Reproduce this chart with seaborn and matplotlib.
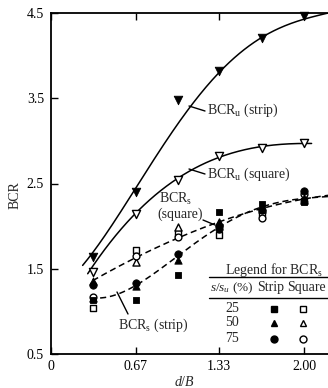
import numpy as np
import pandas as pd
import matplotlib
matplotlib.use("Agg")
import matplotlib.pyplot as plt
import seaborn as sns

# ---------------- data ----------------
x_db = [0.33, 0.67, 1.00, 1.33, 1.67, 2.00]
x_ticks = [0, 0.67, 1.33, 2.00]
x_ticklabels = ["0", "0.67", "1.33", "2.00"]
y_ticks = [0.5, 1.5, 2.5, 3.5, 4.5]
y_ticklabels = ["0.5", "1.5", "2.5", "3.5", "4.5"]

bcru_strip = [1.64, 2.40, 3.48, 3.82, 4.21, 4.46]
bcru_square = [1.46, 2.14, 2.54, 2.82, 2.92, 2.98]

bcrs_strip_25 = [1.13, 1.13, 1.43, 2.17, 2.26, 2.28]
bcrs_strip_50 = [1.36, 1.30, 1.60, 2.04, 2.22, 2.33]
bcrs_strip_75 = [1.31, 1.33, 1.67, 1.97, 2.19, 2.41]
bcrs_square_25 = [1.04, 1.72, 1.92, 1.90, 2.15, 2.29]
bcrs_square_50 = [1.16, 1.58, 1.99, 2.05, 2.20, 2.31]
bcrs_square_75 = [1.17, 1.65, 1.87, 2.00, 2.10, 2.38]

# trend curves (knots along each drawn curve)
curve_u_strip_x = [0.25, 0.45, 0.67, 0.88, 1.02, 1.32, 1.65, 1.98, 2.19]
curve_u_strip_y = [1.53, 1.97, 2.42, 2.93, 3.24, 3.80, 4.19, 4.42, 4.50]
curve_u_square_x = [0.29, 0.45, 0.67, 1.00, 1.33, 1.67, 2.06]
curve_u_square_y = [1.43, 1.80, 2.14, 2.55, 2.82, 2.93, 2.97]
curve_s_strip_x = [0.31, 0.49, 0.68, 0.90, 1.00, 1.32, 1.67, 2.00, 2.25]
curve_s_strip_y = [1.15, 1.21, 1.32, 1.52, 1.62, 2.01, 2.23, 2.31, 2.36]
curve_s_square_x = [0.33, 0.68, 1.00, 1.32, 1.67, 2.00, 2.25]
curve_s_square_y = [1.36, 1.64, 1.86, 2.04, 2.21, 2.32, 2.37]

legend_pct = ["25", "50", "75"]

# ---------------- style ----------------
sns.set_style("ticks")
plt.rcParams["font.family"] = ["Liberation Serif", "DejaVu Serif"]
plt.rcParams["mathtext.fontset"] = "custom"
plt.rcParams["mathtext.rm"] = "Liberation Serif"
plt.rcParams["mathtext.it"] = "Liberation Serif:italic"
FS = 10

W, H = 328, 388
fig = plt.figure(figsize=(W / 100, H / 100), dpi=100)
ax_left, ax_bottom, ax_top, ax_right = 51, 354, 13, 345
ax = fig.add_axes([ax_left / W, 1 - ax_bottom / H, (ax_right - ax_left) / W,
                   (ax_bottom - ax_top) / H])
xmax = (ax_right - ax_left) / 126.5
ax.set_xlim(0, xmax)
ax.set_ylim(0.5, 4.5)


def smooth(xs, ys, deg, x0, x1):
    c = np.polyfit(xs, ys, deg)
    xx = np.linspace(x0, x1, 200)
    return xx, np.polyval(c, xx)


lw = 1.1
for (cx, cy, deg, ls) in [
    (curve_u_strip_x, curve_u_strip_y, 4, "-"),
    (curve_u_square_x, curve_u_square_y, 3, "-"),
    (curve_s_strip_x, curve_s_strip_y, 4, (0, (4, 2.5))),
    (curve_s_square_x, curve_s_square_y, 3, (0, (4, 2.5))),
]:
    xx, yy = smooth(cx, cy, deg, cx[0], cx[-1])
    df = pd.DataFrame({"x": xx, "y": yy})
    sns.lineplot(data=df, x="x", y="y", ax=ax, color="black", lw=lw,
                 linestyle=ls, sort=False, estimator=None, zorder=2)

# markers
series = [
    (bcrs_square_25, "s", False, 22),
    (bcrs_square_50, "^", False, 26),
    (bcrs_square_75, "o", False, 24),
    (bcrs_strip_25, "s", True, 22),
    (bcrs_strip_50, "^", True, 28),
    (bcrs_strip_75, "o", True, 28),
    (bcru_square, "v", False, 34),
    (bcru_strip, "v", True, 38),
]
for vals, mk, filled, s in series:
    df = pd.DataFrame({"x": x_db, "y": vals})
    if filled:
        sns.scatterplot(data=df, x="x", y="y", ax=ax, marker=mk, s=s,
                        color="black", edgecolor="black", linewidth=0.6,
                        zorder=4, clip_on=False)
    else:
        sns.scatterplot(data=df, x="x", y="y", ax=ax, marker=mk, s=s,
                        color="white", edgecolor="black", linewidth=1.0,
                        zorder=3, clip_on=False)

ax.set_xlabel("")
ax.set_ylabel("")
ax.set_xticks(x_ticks)
ax.set_xticklabels(x_ticklabels)
ax.set_yticks(y_ticks)
ax.set_yticklabels(y_ticklabels)
ax.tick_params(axis="both", direction="in", length=5, width=1.0,
               labelsize=FS, colors="black")
ax.tick_params(axis="x", top=True, pad=4)
ax.tick_params(axis="y", pad=5)
for sp in ["left", "bottom", "top"]:
    ax.spines[sp].set_linewidth(1.3)
    ax.spines[sp].set_color("black")
ax.spines["right"].set_visible(False)

fig.text(184 / W, 1 - 382 / H, r"$d/B$", ha="center", va="center",
         fontsize=FS)
fig.text(15 / W, 1 - 195 / H, "BCR", rotation=90, ha="center",
         va="center", fontsize=FS)


def px(xp, yp):
    return (xp - 51) / 126.5, 0.5 + (354 - yp) / 85.25


def label(text, tx, ty, lx0, ly0, lx1, ly1, **kw):
    ax.annotate("", xy=px(lx0, ly0), xytext=px(lx1, ly1),
                arrowprops=dict(arrowstyle="-", lw=1.0, color="black",
                                shrinkA=0, shrinkB=0))
    x, y = px(tx, ty)
    ax.text(x, y, text, fontsize=FS, va="center", **kw)


label(r"BCR$_\mathrm{u}$ (strip)", 207, 110, 189, 106, 205, 111, ha="left")
label(r"BCR$_\mathrm{u}$ (square)", 207, 174, 189, 169, 205, 174, ha="left")
label(r"BCR$_\mathrm{s}$ (strip)", 118, 325, 117, 292, 128, 314, ha="left")
x, y = px(159, 199)
ax.text(x, y, r"BCR$_\mathrm{s}$", fontsize=FS, va="center", ha="left")
x, y = px(157, 214)
ax.text(x, y, "(square)", fontsize=FS, va="center", ha="left")
ax.annotate("", xy=px(203, 220), xytext=px(215, 225),
            arrowprops=dict(arrowstyle="-", lw=1.0, color="black",
                            shrinkA=0, shrinkB=0))

# legend table for BCR_s
x, y = px(274, 270)
ax.text(x, y, r"Legend for BCR$_\mathrm{s}$", fontsize=FS, ha="center",
        va="center")
for yl in [277, 298]:
    a, b = px(209, yl)
    c, _ = px(345, yl)
    ax.plot([a, c], [b, b], color="black", lw=1.0, clip_on=False)
x, y = px(210, 288)
ax.text(x, y, r"$s/s_u$ (%)", fontsize=FS - 0.5, ha="left", va="center")
x, y = px(271, 288)
ax.text(x, y, "Strip", fontsize=FS, ha="center", va="center")
x, y = px(287, 288)
ax.text(x, y, "Square", fontsize=FS, ha="left", va="center")
row_y = [309, 323, 339]
row_mk = ["s", "^", "o"]
for pct, ry, mk in zip(legend_pct, row_y, row_mk):
    x, y = px(232, ry)
    ax.text(x, y, pct, fontsize=FS, ha="center", va="center")
    x1, y1 = px(274, ry)
    ax.plot([x1], [y1], marker=mk, ms=5, color="black", mec="black",
            ls="none", clip_on=False)
    x2, _ = px(303, ry)
    ax.plot([x2], [y1], marker=mk, ms=5, mfc="white", mec="black",
            mew=1.0, ls="none", clip_on=False)

fig.savefig("out.png", dpi=100)
